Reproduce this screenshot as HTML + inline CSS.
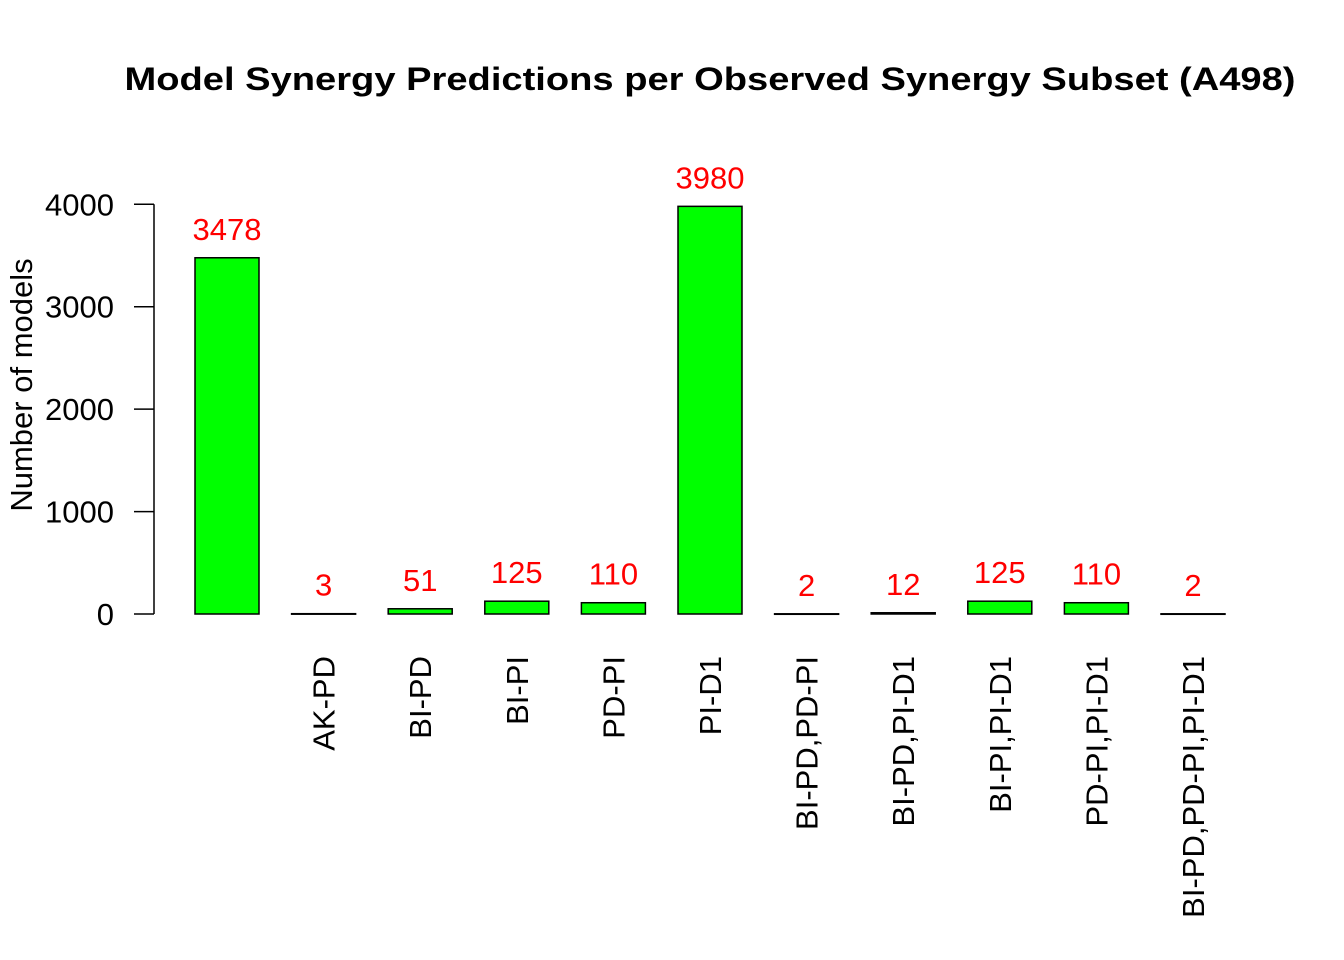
<!DOCTYPE html>
<html><head><meta charset="utf-8"><style>
html,body{margin:0;padding:0;background:#fff;}
svg{display:block;font-family:"Liberation Sans",Arial,sans-serif;}
</style></head><body>
<svg id="chart" width="1344" height="960" viewBox="0 0 1344 960">
<rect width="1344" height="960" fill="#fff"/>
<text x="710" y="90" text-anchor="middle" font-size="32" font-weight="bold" textLength="1171" lengthAdjust="spacingAndGlyphs">Model Synergy Predictions per Observed Synergy Subset (A498)</text>
<text transform="translate(32,385) rotate(-90)" text-anchor="middle" font-size="31">Number of models</text>
<g id="yaxis"></g>
<g id="bars"></g>
</svg>
<script>
const categories = ["", "AK-PD", "BI-PD", "BI-PI", "PD-PI", "PI-D1", "BI-PD,PD-PI", "BI-PD,PI-D1", "BI-PI,PI-D1", "PD-PI,PI-D1", "BI-PD,PD-PI,PI-D1"];
const values = [3478, 3, 51, 125, 110, 3980, 2, 12, 125, 110, 2];
const yTicks = [0, 1000, 2000, 3000, 4000];

const NS = "http://www.w3.org/2000/svg";
const y0 = 614, yTop = 204.3, yMax = 4000;
function yScale(v){ return y0 - v * (y0 - yTop) / yMax; }
function xLeft(i){ return 195 + i * 96.6; }
const barW = 64;

const ya = document.getElementById('yaxis');
let ln = document.createElementNS(NS,'line');


ln.setAttribute('x1',154); ln.setAttribute('x2',154);
ln.setAttribute('y1',yScale(yTicks[0])); ln.setAttribute('y2',yScale(yTicks[yTicks.length-1]));
ln.setAttribute('stroke','#000'); ln.setAttribute('stroke-width','1.5');
ya.appendChild(ln);
yTicks.forEach(t=>{
  const y = yScale(t);
  const tk = document.createElementNS(NS,'line');
  
  
  tk.setAttribute('x1',134); tk.setAttribute('x2',154);
  tk.setAttribute('y1',y); tk.setAttribute('y2',y);
  tk.setAttribute('stroke','#000'); tk.setAttribute('stroke-width','1.5');
  ya.appendChild(tk);
  const tx = document.createElementNS(NS,'text');
  
  
  tx.setAttribute('x',114); tx.setAttribute('y',y+11);
  tx.setAttribute('text-anchor','end'); tx.setAttribute('font-size','31');
  tx.textContent = t;
  ya.appendChild(tx);
});

const g = document.getElementById('bars');
values.forEach((v,i)=>{
  const x = xLeft(i), top = yScale(v);
  const r = document.createElementNS(NS,'rect');
  
  
  r.setAttribute('x',x); r.setAttribute('y',top);
  r.setAttribute('width',barW); r.setAttribute('height',Math.max(y0-top,0.5));
  r.setAttribute('fill','#00ff00'); r.setAttribute('stroke','#000'); r.setAttribute('stroke-width','1.5');
  g.appendChild(r);
  const vl = document.createElementNS(NS,'text');
  
  
  vl.setAttribute('x',x+barW/2); vl.setAttribute('y',top-18);
  vl.setAttribute('text-anchor','middle'); vl.setAttribute('font-size','31'); vl.setAttribute('fill','#ff0000');
  vl.textContent = v;
  g.appendChild(vl);
  if (categories[i]) {
    const cl = document.createElementNS(NS,'text');
    
    
    cl.setAttribute('transform','translate('+(x+barW/2+11)+',656) rotate(-90)');
    cl.setAttribute('text-anchor','end'); cl.setAttribute('font-size','31');
    cl.textContent = categories[i];
    g.appendChild(cl);
  }
});
</script>
</body></html>
